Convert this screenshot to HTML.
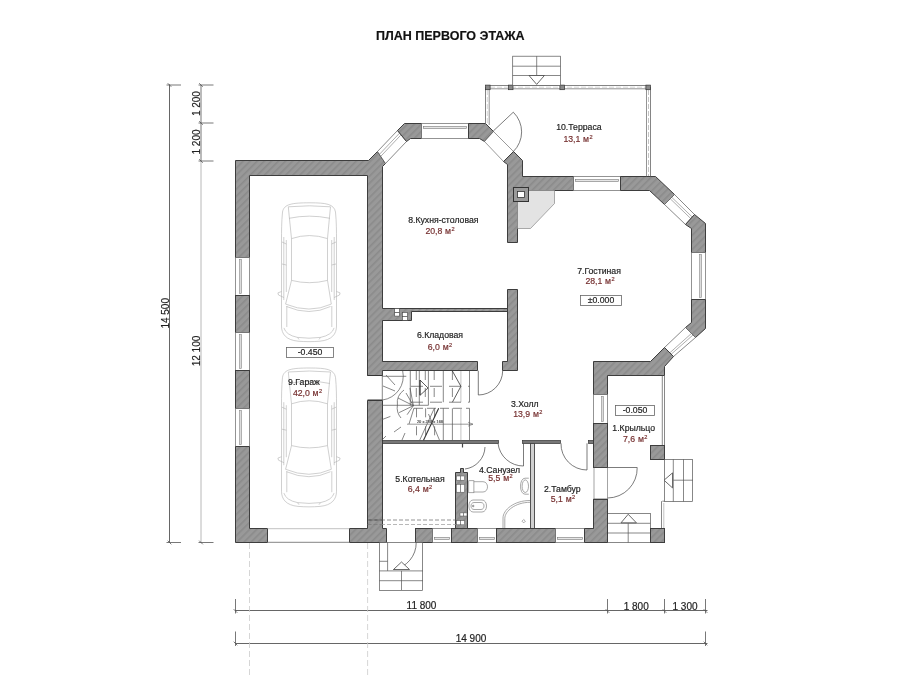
<!DOCTYPE html>
<html><head><meta charset="utf-8"><style>
html,body{margin:0;padding:0;background:#fff;width:899px;height:675px;overflow:hidden}
svg{display:block;will-change:transform}
text{font-family:"Liberation Sans",sans-serif}
</style></head><body>
<svg width="899" height="675" viewBox="0 0 899 675">
<defs>
<pattern id="h" patternUnits="userSpaceOnUse" width="5" height="5" patternTransform="rotate(45)">
<rect width="5" height="5" fill="#999"/>
<rect width="1.6" height="5" fill="#8b8b8b"/>
</pattern>
</defs>
<rect width="899" height="675" fill="#fff"/>
<line x1="169.5" y1="84.5" x2="169.5" y2="542.5" stroke="#555" stroke-width="0.9" />
<line x1="166.5" y1="85.0" x2="181.0" y2="85.0" stroke="#555" stroke-width="0.8" />
<line x1="166.5" y1="542.5" x2="181.0" y2="542.5" stroke="#555" stroke-width="0.8" />
<line x1="201.0" y1="85.0" x2="201.0" y2="161.0" stroke="#666" stroke-width="0.9" />
<line x1="201.0" y1="161.0" x2="201.0" y2="542.5" stroke="#b0b0b0" stroke-width="0.9" />
<line x1="198.5" y1="85.0" x2="213.5" y2="85.0" stroke="#555" stroke-width="0.8" />
<line x1="198.5" y1="123.0" x2="213.5" y2="123.0" stroke="#555" stroke-width="0.8" />
<line x1="198.5" y1="161.0" x2="213.5" y2="161.0" stroke="#555" stroke-width="0.8" />
<line x1="198.5" y1="542.5" x2="213.5" y2="542.5" stroke="#555" stroke-width="0.8" />
<line x1="167.7" y1="83.2" x2="171.3" y2="86.8" stroke="#555" stroke-width="0.8" />
<line x1="167.7" y1="540.7" x2="171.3" y2="544.3" stroke="#555" stroke-width="0.8" />
<line x1="199.2" y1="83.2" x2="202.8" y2="86.8" stroke="#555" stroke-width="0.8" />
<line x1="199.2" y1="121.2" x2="202.8" y2="124.8" stroke="#555" stroke-width="0.8" />
<line x1="199.2" y1="159.2" x2="202.8" y2="162.8" stroke="#555" stroke-width="0.8" />
<line x1="199.2" y1="540.7" x2="202.8" y2="544.3" stroke="#555" stroke-width="0.8" />
<line x1="235.0" y1="610.5" x2="707.5" y2="610.5" stroke="#555" stroke-width="0.9" />
<line x1="235.0" y1="643.5" x2="707.5" y2="643.5" stroke="#555" stroke-width="0.9" />
<line x1="235.5" y1="599.0" x2="235.5" y2="613.5" stroke="#555" stroke-width="0.8" />
<line x1="233.7" y1="609.2" x2="237.3" y2="612.8" stroke="#555" stroke-width="0.8" />
<line x1="607.5" y1="599.0" x2="607.5" y2="613.5" stroke="#555" stroke-width="0.8" />
<line x1="605.7" y1="609.2" x2="609.3" y2="612.8" stroke="#555" stroke-width="0.8" />
<line x1="664.5" y1="599.0" x2="664.5" y2="613.5" stroke="#555" stroke-width="0.8" />
<line x1="662.7" y1="609.2" x2="666.3" y2="612.8" stroke="#555" stroke-width="0.8" />
<line x1="705.5" y1="599.0" x2="705.5" y2="613.5" stroke="#555" stroke-width="0.8" />
<line x1="703.7" y1="609.2" x2="707.3" y2="612.8" stroke="#555" stroke-width="0.8" />
<line x1="235.5" y1="631.5" x2="235.5" y2="646.0" stroke="#555" stroke-width="0.8" />
<line x1="233.7" y1="641.7" x2="237.3" y2="645.3" stroke="#555" stroke-width="0.8" />
<line x1="705.5" y1="631.5" x2="705.5" y2="646.0" stroke="#555" stroke-width="0.8" />
<line x1="703.7" y1="641.7" x2="707.3" y2="645.3" stroke="#555" stroke-width="0.8" />
<line x1="249.5" y1="543.0" x2="249.5" y2="675.0" stroke="#ccc" stroke-width="0.8" stroke-dasharray="6,3"/>
<line x1="367.6" y1="543.0" x2="367.6" y2="675.0" stroke="#ccc" stroke-width="0.8" stroke-dasharray="6,3"/>
<text x="421.5" y="609.0" font-size="10" fill="#222" stroke="#222" stroke-width="0.18" text-anchor="middle" font-weight="normal" >11 800</text>
<text x="636.2" y="609.5" font-size="10" fill="#222" stroke="#222" stroke-width="0.18" text-anchor="middle" font-weight="normal" >1 800</text>
<text x="685.0" y="609.5" font-size="10" fill="#222" stroke="#222" stroke-width="0.18" text-anchor="middle" font-weight="normal" >1 300</text>
<text x="471.0" y="641.5" font-size="10" fill="#222" stroke="#222" stroke-width="0.18" text-anchor="middle" font-weight="normal" >14 900</text>
<text transform="translate(168.5,313.3) rotate(-90)" font-size="10" fill="#222" stroke="#222" stroke-width="0.15" text-anchor="middle">14 500</text>
<text transform="translate(199.8,351) rotate(-90)" font-size="10" fill="#222" stroke="#222" stroke-width="0.15" text-anchor="middle">12 100</text>
<text transform="translate(199.8,103.6) rotate(-90)" font-size="10" fill="#222" stroke="#222" stroke-width="0.15" text-anchor="middle">1 200</text>
<text transform="translate(199.8,142) rotate(-90)" font-size="10" fill="#222" stroke="#222" stroke-width="0.15" text-anchor="middle">1 200</text>
<text x="450.3" y="40.0" font-size="12.5" fill="#111" stroke="#111" stroke-width="0.18" text-anchor="middle" font-weight="bold" >ПЛАН ПЕРВОГО ЭТАЖА</text>
<g fill="none" stroke="#b0b0b0" stroke-width="0.6"><path d="M310.0,202.8 C326.0,202.8 334.0,204.0 335.5,212.0 C336.5,222.0 336.5,232.0 336.5,240.0 L336.5,326.0 C336.5,334.0 332.0,340.0 320.0,341.2 C312.0,341.8 306.0,341.8 298.0,341.2 C286.0,340.0 281.5,334.0 281.5,326.0 L281.5,240.0 C281.5,232.0 281.5,222.0 282.5,212.0 C284.0,204.0 292.0,202.8 310.0,202.8 Z"/><path d="M288.3,206.8 Q309.4,204.8 330.5,206.8"/><path d="M289.0,218.3 Q309.4,214.0 330.0,218.3"/><path d="M291.5,238.6 Q309.4,232.5 327.5,238.6"/><path d="M288.3,206.8 L289.4,218.0 L291.5,238.6 L291.5,280.4 L285.6,304.1"/><path d="M330.5,206.8 L329.4,218.0 L327.5,238.6 L327.5,280.4 L331.3,304.1"/><path d="M291.5,280.4 Q309.4,285.0 327.5,280.4"/><path d="M285.6,304.1 Q309.4,314.0 331.3,304.1"/><path d="M286.5,306.5 Q309.4,316.5 330.5,306.5"/><path d="M283.8,237.0 L283.8,300.0 M286.3,240.0 L286.3,292.0"/><path d="M334.2,237.0 L334.2,300.0 M331.7,240.0 L331.7,292.0"/><path d="M282.0,242.0 L286.3,244.0 M336.0,242.0 L331.7,244.0"/><path d="M282.0,264.0 L286.3,265.0 M336.0,264.0 L331.7,265.0"/><path d="M286.8,306.0 L286.8,327.0 M331.8,306.0 L331.8,327.0"/><path d="M281.5,291.5 L277.9,292.9 L278.5,295.0 L283.9,297.5"/><path d="M336.5,291.5 L340.1,292.9 L339.5,295.0 L334.1,297.5"/><path d="M283.9,327.9 Q286.0,335.0 297.5,337.4 L299.0,339.5"/><path d="M334.1,327.9 Q332.0,335.0 320.5,337.4 L319.0,339.5"/><path d="M297.5,337.4 Q309.0,339.0 320.5,337.4"/></g>
<g fill="none" stroke="#b0b0b0" stroke-width="0.6"><path d="M310.0,368.0 C326.0,368.0 334.0,369.2 335.5,377.2 C336.5,387.2 336.5,397.2 336.5,405.2 L336.5,491.2 C336.5,499.2 332.0,505.2 320.0,506.4 C312.0,507.0 306.0,507.0 298.0,506.4 C286.0,505.2 281.5,499.2 281.5,491.2 L281.5,405.2 C281.5,397.2 281.5,387.2 282.5,377.2 C284.0,369.2 292.0,368.0 310.0,368.0 Z"/><path d="M288.3,372.0 Q309.4,370.0 330.5,372.0"/><path d="M289.0,383.5 Q309.4,379.2 330.0,383.5"/><path d="M291.5,403.8 Q309.4,397.7 327.5,403.8"/><path d="M288.3,372.0 L289.4,383.2 L291.5,403.8 L291.5,445.6 L285.6,469.3"/><path d="M330.5,372.0 L329.4,383.2 L327.5,403.8 L327.5,445.6 L331.3,469.3"/><path d="M291.5,445.6 Q309.4,450.2 327.5,445.6"/><path d="M285.6,469.3 Q309.4,479.2 331.3,469.3"/><path d="M286.5,471.7 Q309.4,481.7 330.5,471.7"/><path d="M283.8,402.2 L283.8,465.2 M286.3,405.2 L286.3,457.2"/><path d="M334.2,402.2 L334.2,465.2 M331.7,405.2 L331.7,457.2"/><path d="M282.0,407.2 L286.3,409.2 M336.0,407.2 L331.7,409.2"/><path d="M282.0,429.2 L286.3,430.2 M336.0,429.2 L331.7,430.2"/><path d="M286.8,471.2 L286.8,492.2 M331.8,471.2 L331.8,492.2"/><path d="M281.5,456.7 L277.9,458.1 L278.5,460.2 L283.9,462.7"/><path d="M336.5,456.7 L340.1,458.1 L339.5,460.2 L334.1,462.7"/><path d="M283.9,493.1 Q286.0,500.2 297.5,502.6 L299.0,504.7"/><path d="M334.1,493.1 Q332.0,500.2 320.5,502.6 L319.0,504.7"/><path d="M297.5,502.6 Q309.0,504.2 320.5,502.6"/></g>
<polygon points="235.5,160.5 368.5,160.5 377.5,151.5 385.5,163.5 382.5,166.5 382.5,375.5 367.5,375.5 367.5,175.5 249.5,175.5 249.5,257.5 235.5,257.5" fill="url(#h)" stroke="#3d3d3d" stroke-width="1"/>
<rect x="235.5" y="257.5" width="14.0" height="38.0" fill="#fff" stroke="#666" stroke-width="0.7"/>
<rect x="239.5" y="259.5" width="2.0" height="34.0" fill="#dcdcdc" stroke="#888" stroke-width="0.6"/>
<rect x="235.5" y="295.5" width="14.0" height="37.0" fill="url(#h)" stroke="#3d3d3d" stroke-width="1"/>
<rect x="235.5" y="332.5" width="14.0" height="38.0" fill="#fff" stroke="#666" stroke-width="0.7"/>
<rect x="239.5" y="334.5" width="2.0" height="34.0" fill="#dcdcdc" stroke="#888" stroke-width="0.6"/>
<rect x="235.5" y="370.5" width="14.0" height="38.0" fill="url(#h)" stroke="#3d3d3d" stroke-width="1"/>
<rect x="235.5" y="408.5" width="14.0" height="38.0" fill="#fff" stroke="#666" stroke-width="0.7"/>
<rect x="239.5" y="410.5" width="2.0" height="34.0" fill="#dcdcdc" stroke="#888" stroke-width="0.6"/>
<polygon points="235.5,446.5 249.5,446.5 249.5,528.5 267.5,528.5 267.5,542.5 235.5,542.5" fill="url(#h)" stroke="#3d3d3d" stroke-width="1"/>
<polygon points="377.5,151.5 397.5,130.5 406.5,141.5 385.5,163.5" fill="#fff" stroke="#555" stroke-width="0.7"/>
<line x1="379.2" y1="154.6" x2="399.3" y2="133.4" stroke="#777" stroke-width="0.6" />
<line x1="380.6" y1="156.5" x2="400.8" y2="135.1" stroke="#777" stroke-width="0.6" />
<polygon points="397.5,130.5 404.5,123.5 421.5,123.5 421.5,138.5 410.5,138.5 406.5,141.5" fill="url(#h)" stroke="#3d3d3d" stroke-width="1"/>
<rect x="421.5" y="123.5" width="47.0" height="15.0" fill="#fff" stroke="#666" stroke-width="0.7"/>
<rect x="423.5" y="126.5" width="43.0" height="2.0" fill="#e6e6e6" stroke="#777" stroke-width="0.6"/>
<polygon points="468.5,123.5 485.5,123.5 493.5,131.5 484.5,141.5 479.5,138.5 468.5,138.5" fill="url(#h)" stroke="#3d3d3d" stroke-width="1"/>
<polygon points="493.5,131.5 513.5,151.5 503.5,161.5 484.5,141.5" fill="#fff" stroke="#555" stroke-width="0.6"/>
<line x1="493.3" y1="131.0" x2="513.3" y2="112.2" stroke="#444" stroke-width="0.7" />
<path d="M513.3,112.2 A27.5,27.5 0 0 1 513.3,151.6" stroke="#444" stroke-width="0.7" fill="none" />
<polygon points="513.5,151.5 522.5,160.5 522.5,176.5 573.5,176.5 573.5,190.5 517.5,190.5 517.5,242.5 507.5,242.5 507.5,164.5 503.5,161.5" fill="url(#h)" stroke="#3d3d3d" stroke-width="1"/>
<rect x="573.5" y="176.5" width="47.0" height="14.0" fill="#fff" stroke="#666" stroke-width="0.7"/>
<rect x="575.5" y="179.5" width="43.0" height="2.0" fill="#e6e6e6" stroke="#777" stroke-width="0.6"/>
<polygon points="620.5,176.5 655.5,176.5 674.5,194.5 664.5,204.5 649.5,190.5 620.5,190.5" fill="url(#h)" stroke="#3d3d3d" stroke-width="1"/>
<polygon points="674.5,194.5 694.5,214.5 685.5,224.5 664.5,204.5" fill="#fff" stroke="#555" stroke-width="0.7"/>
<line x1="671.6" y1="197.2" x2="692.4" y2="217.2" stroke="#777" stroke-width="0.6" />
<line x1="670.2" y1="198.7" x2="690.9" y2="218.7" stroke="#777" stroke-width="0.6" />
<polygon points="694.5,214.5 705.5,223.5 705.5,252.5 691.5,252.5 691.5,228.5 685.5,224.5" fill="url(#h)" stroke="#3d3d3d" stroke-width="1"/>
<rect x="691.5" y="252.5" width="14.0" height="47.0" fill="#fff" stroke="#666" stroke-width="0.7"/>
<rect x="699.5" y="254.5" width="2.0" height="43.0" fill="#dcdcdc" stroke="#888" stroke-width="0.6"/>
<polygon points="691.5,299.5 705.5,299.5 705.5,328.5 695.5,337.5 685.5,327.5 691.5,322.5" fill="url(#h)" stroke="#3d3d3d" stroke-width="1"/>
<polygon points="695.5,337.5 673.5,356.5 664.5,347.5 685.5,327.5" fill="#fff" stroke="#555" stroke-width="0.7"/>
<line x1="693.2" y1="334.8" x2="670.9" y2="354.5" stroke="#777" stroke-width="0.6" />
<line x1="691.6" y1="333.3" x2="669.6" y2="353.0" stroke="#777" stroke-width="0.6" />
<polygon points="673.5,356.5 664.5,366.5 664.5,375.5 607.5,375.5 607.5,394.5 593.5,394.5 593.5,361.5 650.5,361.5 664.5,347.5" fill="url(#h)" stroke="#3d3d3d" stroke-width="1"/>
<polygon points="517.5,190.5 554.5,190.5 554.5,203.5 530.5,228.5 517.5,228.5" fill="#e3e3e3" stroke="#888" stroke-width="0.7"/>
<rect x="513.5" y="187.5" width="15.0" height="14.0" fill="#9a9a9a" stroke="#333" stroke-width="1"/>
<rect x="517.5" y="191.5" width="7.0" height="6.0" fill="#fff" stroke="#333" stroke-width="0.8"/>
<polygon points="381.5,308.5 508.5,308.5 508.5,311.5 411.5,311.5 411.5,320.5 381.5,320.5" fill="url(#h)" stroke="none"/>
<path d="M382.5,308.5 H508 M411.5,311.5 H508 M382.5,320.5 H411.5 V311.5" stroke="#3d3d3d" stroke-width="1" fill="none"/>
<rect x="394.7" y="308.6" width="4.7" height="3.9" fill="#fff" stroke="#444" stroke-width="0.6"/>
<rect x="394.7" y="312.5" width="4.7" height="3.6" fill="#fff" stroke="#444" stroke-width="0.6"/>
<rect x="402.5" y="312.5" width="5.0" height="3.9" fill="#fff" stroke="#444" stroke-width="0.6"/>
<rect x="402.5" y="316.4" width="5.0" height="3.9" fill="#fff" stroke="#444" stroke-width="0.6"/>
<polygon points="507.5,289.5 517.5,289.5 517.5,370.5 502.5,370.5 502.5,361.5 507.5,361.5" fill="url(#h)" stroke="#3d3d3d" stroke-width="1"/>
<rect x="381.5" y="361.5" width="96.0" height="9.0" fill="url(#h)" stroke="none"/>
<path d="M382.5,361.5 H477.5 V370.5 H382.5" stroke="#3d3d3d" stroke-width="1" fill="none"/>
<line x1="478.3" y1="370.7" x2="478.3" y2="395.0" stroke="#444" stroke-width="0.7" />
<path d="M478.3,395 A24.5,24.5 0 0 0 502.7,370.7" stroke="#444" stroke-width="0.7" fill="none" />
<polygon points="367.5,400.5 382.5,400.5 382.5,528.5 386.5,528.5 386.5,542.5 349.5,542.5 349.5,528.5 367.5,528.5" fill="url(#h)" stroke="#3d3d3d" stroke-width="1"/>
<line x1="367.5" y1="375.5" x2="382.5" y2="375.5" stroke="#333" stroke-width="1" />
<line x1="367.5" y1="400.0" x2="382.5" y2="400.0" stroke="#333" stroke-width="1" />
<rect x="382.5" y="440.5" width="116.0" height="3.0" fill="#777" stroke="#333" stroke-width="0.7"/>
<rect x="522.5" y="440.5" width="38.0" height="3.0" fill="#777" stroke="#333" stroke-width="0.7"/>
<rect x="588.5" y="440.5" width="5.0" height="3.0" fill="#777" stroke="#333" stroke-width="0.7"/>
<rect x="530.5" y="443.5" width="4.0" height="85.0" fill="#d0d0d0" stroke="#444" stroke-width="0.9"/>
<path d="M498,443.3 A25.5,25.5 0 0 0 523.5,466" stroke="#444" stroke-width="0.7" fill="none" />
<line x1="523.5" y1="443.3" x2="523.5" y2="466.0" stroke="#444" stroke-width="0.7" />
<path d="M561,443.3 A26,26 0 0 0 587,470" stroke="#444" stroke-width="0.7" fill="none" />
<line x1="587.0" y1="443.3" x2="587.0" y2="470.0" stroke="#444" stroke-width="0.7" />
<line x1="462.5" y1="443.3" x2="462.5" y2="447.5" stroke="#444" stroke-width="1.2" />
<polygon points="460.5,468.5 463.5,468.5 463.5,472.5 467.5,472.5 467.5,528.5 455.5,528.5 455.5,472.5 460.5,472.5" fill="url(#h)" stroke="#3d3d3d" stroke-width="1"/>
<rect x="456.5" y="476.0" width="4.0" height="4.2" fill="#fff" stroke="#555" stroke-width="0.5"/>
<rect x="460.5" y="476.0" width="4.0" height="4.2" fill="#fff" stroke="#555" stroke-width="0.5"/>
<rect x="456.5" y="484.4" width="4.0" height="7.8" fill="#fff" stroke="#555" stroke-width="0.5"/>
<rect x="460.5" y="484.4" width="4.0" height="7.8" fill="#fff" stroke="#555" stroke-width="0.5"/>
<rect x="460.0" y="512.9" width="3.5" height="3.1" fill="#fff" stroke="#555" stroke-width="0.5"/>
<rect x="463.5" y="512.9" width="3.5" height="3.1" fill="#fff" stroke="#555" stroke-width="0.5"/>
<rect x="456.5" y="520.7" width="4.0" height="4.1" fill="#fff" stroke="#555" stroke-width="0.5"/>
<rect x="460.5" y="520.7" width="4.0" height="4.1" fill="#fff" stroke="#555" stroke-width="0.5"/>
<path d="M465,469 A23,23 0 0 0 485,447" stroke="#444" stroke-width="0.7" fill="none" />
<line x1="369.0" y1="520.0" x2="456.0" y2="520.0" stroke="#666" stroke-width="0.7" stroke-dasharray="4,2"/>
<line x1="369.0" y1="524.5" x2="456.0" y2="524.5" stroke="#999" stroke-width="0.7" stroke-dasharray="4,2"/>
<rect x="593.5" y="394.5" width="14.0" height="29.0" fill="#fff" stroke="#666" stroke-width="0.7"/>
<rect x="601.5" y="396.5" width="2.0" height="25.0" fill="#dcdcdc" stroke="#888" stroke-width="0.6"/>
<rect x="593.5" y="423.5" width="14.0" height="44.0" fill="url(#h)" stroke="#3d3d3d" stroke-width="1"/>
<rect x="593.5" y="499.5" width="14.0" height="29.0" fill="url(#h)" stroke="#3d3d3d" stroke-width="1"/>
<line x1="593.5" y1="467.5" x2="637.2" y2="467.5" stroke="#444" stroke-width="0.7" />
<path d="M637.2,467.5 A29.8,29.8 0 0 1 607.5,498" stroke="#444" stroke-width="0.7" fill="none" />
<line x1="593.5" y1="499.0" x2="607.5" y2="499.0" stroke="#444" stroke-width="0.7" />
<line x1="594.0" y1="467.5" x2="594.0" y2="499.0" stroke="#666" stroke-width="0.6" />
<line x1="607.5" y1="467.5" x2="607.5" y2="499.0" stroke="#666" stroke-width="0.6" />
<line x1="662.3" y1="375.5" x2="662.3" y2="445.0" stroke="#555" stroke-width="0.7" />
<line x1="664.5" y1="375.5" x2="664.5" y2="445.0" stroke="#555" stroke-width="0.7" />
<rect x="650.5" y="445.5" width="14.0" height="14.0" fill="url(#h)" stroke="#3d3d3d" stroke-width="1"/>
<line x1="661.5" y1="501.2" x2="661.5" y2="528.2" stroke="#555" stroke-width="0.7" />
<line x1="663.8" y1="503.0" x2="663.8" y2="528.2" stroke="#999" stroke-width="0.6" />
<line x1="662.3" y1="501.2" x2="664.5" y2="501.2" stroke="#555" stroke-width="0.7" />
<rect x="664.5" y="459.5" width="28.0" height="42.0" fill="none" stroke="#555" stroke-width="0.7"/>
<line x1="673.3" y1="459.3" x2="673.3" y2="501.5" stroke="#555" stroke-width="0.7" />
<line x1="683.5" y1="459.3" x2="683.5" y2="501.5" stroke="#555" stroke-width="0.7" />
<line x1="673.3" y1="480.2" x2="692.9" y2="480.2" stroke="#555" stroke-width="0.7" />
<path d="M664,480.2 L672.5,472.9 L672.5,487.9 Z" stroke="#444" stroke-width="0.8" fill="#fff" />
<rect x="607.5" y="513.5" width="43.0" height="29.0" fill="#fff" stroke="#555" stroke-width="0.7"/>
<line x1="607.5" y1="523.3" x2="650.3" y2="523.3" stroke="#555" stroke-width="0.7" />
<line x1="607.5" y1="533.0" x2="650.3" y2="533.0" stroke="#555" stroke-width="0.7" />
<line x1="628.2" y1="523.3" x2="628.2" y2="542.5" stroke="#555" stroke-width="0.7" />
<path d="M628.2,514.3 L636.4,522.8 L621,522.8 Z" stroke="#444" stroke-width="0.8" fill="#fff" />
<rect x="415.5" y="528.5" width="17.0" height="14.0" fill="url(#h)" stroke="#3d3d3d" stroke-width="1"/>
<rect x="432.5" y="528.5" width="19.0" height="14.0" fill="#fff" stroke="#666" stroke-width="0.7"/>
<rect x="434.5" y="537.5" width="15.0" height="2.0" fill="#e6e6e6" stroke="#777" stroke-width="0.6"/>
<rect x="451.5" y="528.5" width="26.0" height="14.0" fill="url(#h)" stroke="#3d3d3d" stroke-width="1"/>
<rect x="477.5" y="528.5" width="19.0" height="14.0" fill="#fff" stroke="#666" stroke-width="0.7"/>
<rect x="479.5" y="537.5" width="15.0" height="2.0" fill="#e6e6e6" stroke="#777" stroke-width="0.6"/>
<rect x="496.5" y="528.5" width="59.0" height="14.0" fill="url(#h)" stroke="#3d3d3d" stroke-width="1"/>
<rect x="555.5" y="528.5" width="29.0" height="14.0" fill="#fff" stroke="#666" stroke-width="0.7"/>
<rect x="557.5" y="537.5" width="25.0" height="2.0" fill="#e6e6e6" stroke="#777" stroke-width="0.6"/>
<polygon points="584.5,528.5 593.5,528.5 593.5,499.5 607.5,499.5 607.5,542.5 584.5,542.5" fill="url(#h)" stroke="#3d3d3d" stroke-width="1"/>
<rect x="650.5" y="528.5" width="14.0" height="14.0" fill="url(#h)" stroke="#3d3d3d" stroke-width="1"/>
<line x1="267.5" y1="528.7" x2="349.5" y2="528.7" stroke="#999" stroke-width="0.6" />
<line x1="267.5" y1="542.3" x2="349.5" y2="542.3" stroke="#666" stroke-width="0.8" />
<line x1="367.5" y1="520.0" x2="382.5" y2="520.0" stroke="#444" stroke-width="0.7" stroke-dasharray="4,2"/>
<line x1="367.5" y1="524.5" x2="382.5" y2="524.5" stroke="#777" stroke-width="0.7" stroke-dasharray="4,2"/>
<rect x="379.5" y="542.5" width="43.0" height="48.0" fill="#fff" stroke="#555" stroke-width="0.7"/>
<line x1="387.6" y1="542.5" x2="387.6" y2="570.9" stroke="#555" stroke-width="0.7" />
<line x1="379.4" y1="561.3" x2="387.6" y2="561.3" stroke="#555" stroke-width="0.7" />
<line x1="379.4" y1="570.9" x2="422.9" y2="570.9" stroke="#555" stroke-width="0.7" />
<line x1="379.4" y1="580.7" x2="422.9" y2="580.7" stroke="#555" stroke-width="0.7" />
<line x1="401.5" y1="570.9" x2="401.5" y2="590.0" stroke="#555" stroke-width="0.7" />
<path d="M416.2,542.5 A27,27 0 0 1 393.5,569.5" stroke="#444" stroke-width="0.7" fill="none" />
<path d="M401.5,562 L409.5,569.5 L393.5,569.5 Z" stroke="#444" stroke-width="0.8" fill="#fff" />
<line x1="487.8" y1="85.5" x2="648.5" y2="85.5" stroke="#666" stroke-width="0.8" />
<line x1="487.8" y1="88.8" x2="648.5" y2="88.8" stroke="#666" stroke-width="0.7" />
<line x1="490.0" y1="87.2" x2="646.0" y2="87.2" stroke="#aaa" stroke-width="0.5" stroke-dasharray="5,2"/>
<line x1="485.5" y1="87.0" x2="485.5" y2="124.0" stroke="#666" stroke-width="0.8" />
<line x1="489.2" y1="87.0" x2="489.2" y2="125.0" stroke="#666" stroke-width="0.7" />
<line x1="487.3" y1="90.0" x2="487.3" y2="123.0" stroke="#aaa" stroke-width="0.5" stroke-dasharray="5,2"/>
<line x1="646.5" y1="87.0" x2="646.5" y2="176.5" stroke="#666" stroke-width="0.7" />
<line x1="650.5" y1="87.0" x2="650.5" y2="176.5" stroke="#666" stroke-width="0.8" />
<line x1="648.5" y1="90.0" x2="648.5" y2="176.0" stroke="#888" stroke-width="0.5" stroke-dasharray="5,2"/>
<rect x="485.5" y="85.1" width="4.6" height="4.6" fill="#8a8a8a" stroke="#333" stroke-width="0.7"/>
<rect x="508.4" y="85.1" width="4.6" height="4.6" fill="#8a8a8a" stroke="#333" stroke-width="0.7"/>
<rect x="559.9" y="85.1" width="4.6" height="4.6" fill="#8a8a8a" stroke="#333" stroke-width="0.7"/>
<rect x="645.9" y="85.1" width="4.6" height="4.6" fill="#8a8a8a" stroke="#333" stroke-width="0.7"/>
<rect x="512.7" y="56.2" width="47.7" height="29.3" fill="#fff" stroke="#555" stroke-width="0.7"/>
<line x1="536.7" y1="56.2" x2="536.7" y2="75.5" stroke="#555" stroke-width="0.7" />
<line x1="512.7" y1="66.2" x2="560.4" y2="66.2" stroke="#555" stroke-width="0.7" />
<line x1="512.7" y1="75.5" x2="560.4" y2="75.5" stroke="#555" stroke-width="0.7" />
<path d="M529,75.5 L544.4,75.5 L536.7,84.4 Z" stroke="#444" stroke-width="0.8" fill="#fff" />
<line x1="382.3" y1="371.0" x2="382.3" y2="400.0" stroke="#555" stroke-width="0.7" />
<line x1="382.3" y1="376.3" x2="406.3" y2="376.3" stroke="#555" stroke-width="0.7" />
<path d="M402.7,371 A24,24 0 0 1 382.5,400" stroke="#555" stroke-width="0.7" fill="none" />
<line x1="410.3" y1="371.0" x2="410.3" y2="405.3" stroke="#555" stroke-width="0.7" />
<line x1="419.3" y1="371.0" x2="419.3" y2="405.3" stroke="#555" stroke-width="0.7" />
<line x1="428.4" y1="371.0" x2="428.4" y2="405.3" stroke="#555" stroke-width="0.7" />
<line x1="443.3" y1="371.0" x2="443.3" y2="402.2" stroke="#555" stroke-width="0.7" />
<line x1="469.5" y1="371.0" x2="469.5" y2="402.2" stroke="#555" stroke-width="0.7" />
<line x1="460.9" y1="371.0" x2="460.9" y2="402.2" stroke="#aaa" stroke-width="0.7" />
<line x1="416.3" y1="371.0" x2="416.3" y2="402.0" stroke="#555" stroke-width="0.7" stroke-dasharray="9,8"/>
<line x1="425.3" y1="371.0" x2="425.3" y2="402.0" stroke="#555" stroke-width="0.7" stroke-dasharray="9,8"/>
<line x1="434.2" y1="371.0" x2="434.2" y2="402.0" stroke="#555" stroke-width="0.7" stroke-dasharray="9,8"/>
<line x1="452.4" y1="371.0" x2="452.4" y2="402.0" stroke="#555" stroke-width="0.7" stroke-dasharray="9,8"/>
<line x1="382.3" y1="405.3" x2="428.4" y2="405.3" stroke="#555" stroke-width="0.7" />
<line x1="411.0" y1="386.3" x2="469.5" y2="386.3" stroke="#555" stroke-width="0.7" stroke-dasharray="12,7"/>
<line x1="411.0" y1="402.2" x2="469.5" y2="402.2" stroke="#555" stroke-width="0.7" stroke-dasharray="12,7"/>
<path d="M420,380 L428,388 L420,395.3" stroke="#333" stroke-width="0.8" fill="none" />
<line x1="420.0" y1="380.0" x2="420.0" y2="395.3" stroke="#333" stroke-width="1.3" />
<path d="M452.4,371 L460.9,386.3 L452.4,402.2" stroke="#333" stroke-width="0.8" fill="none" />
<line x1="414.0" y1="408.3" x2="469.5" y2="408.3" stroke="#555" stroke-width="0.7" stroke-dasharray="9,4"/>
<line x1="443.3" y1="408.3" x2="443.3" y2="440.2" stroke="#555" stroke-width="0.7" />
<line x1="452.4" y1="408.3" x2="452.4" y2="440.2" stroke="#555" stroke-width="0.7" />
<line x1="469.5" y1="408.3" x2="469.5" y2="440.2" stroke="#555" stroke-width="0.7" />
<line x1="460.9" y1="408.3" x2="460.9" y2="440.2" stroke="#aaa" stroke-width="0.7" />
<line x1="416.5" y1="408.3" x2="416.5" y2="440.2" stroke="#555" stroke-width="0.7" stroke-dasharray="9,9"/>
<line x1="425.6" y1="408.3" x2="425.6" y2="440.2" stroke="#555" stroke-width="0.7" stroke-dasharray="9,9"/>
<line x1="434.6" y1="408.3" x2="434.6" y2="440.2" stroke="#555" stroke-width="0.7" stroke-dasharray="9,9"/>
<path d="M397.4,405 A16,16 0 0 0 401,418" stroke="#555" stroke-width="0.7" fill="none" />
<path d="M404,390 A16,16 0 0 0 397.4,405" stroke="#555" stroke-width="0.7" fill="none" />
<line x1="413.4" y1="405.7" x2="399.1" y2="412.6" stroke="#555" stroke-width="0.7" />
<line x1="390.4" y1="416.4" x2="382.0" y2="419.6" stroke="#555" stroke-width="0.7" />
<line x1="413.4" y1="405.7" x2="407.1" y2="414.7" stroke="#555" stroke-width="0.7" />
<line x1="401.0" y1="427.0" x2="394.0" y2="432.0" stroke="#555" stroke-width="0.7" />
<line x1="386.0" y1="436.0" x2="382.0" y2="440.0" stroke="#555" stroke-width="0.7" />
<line x1="414.0" y1="408.0" x2="409.0" y2="424.0" stroke="#555" stroke-width="0.7" />
<line x1="405.0" y1="433.0" x2="402.0" y2="440.0" stroke="#555" stroke-width="0.7" />
<line x1="413.4" y1="405.7" x2="398.0" y2="398.0" stroke="#555" stroke-width="0.7" />
<line x1="395.0" y1="391.0" x2="383.0" y2="386.0" stroke="#555" stroke-width="0.7" />
<line x1="413.4" y1="405.7" x2="406.0" y2="393.0" stroke="#555" stroke-width="0.7" />
<line x1="413.4" y1="405.7" x2="410.0" y2="388.0" stroke="#555" stroke-width="0.7" />
<line x1="395.0" y1="385.0" x2="386.0" y2="375.0" stroke="#555" stroke-width="0.7" />
<line x1="434.3" y1="408.3" x2="419.7" y2="440.2" stroke="#555" stroke-width="0.7" />
<line x1="438.7" y1="408.3" x2="423.5" y2="440.2" stroke="#333" stroke-width="1.1" />
<line x1="428.5" y1="414.0" x2="439.5" y2="440.2" stroke="#555" stroke-width="0.7" />
<line x1="407.0" y1="424.2" x2="472.9" y2="424.2" stroke="#555" stroke-width="0.6" />
<line x1="468.0" y1="422.2" x2="472.9" y2="424.2" stroke="#555" stroke-width="0.5" />
<line x1="468.0" y1="426.2" x2="472.9" y2="424.2" stroke="#555" stroke-width="0.5" />
<text x="430.0" y="422.8" font-size="4" fill="#555" stroke="#555" stroke-width="0.18" text-anchor="middle" font-weight="normal" >20 x 280 x 166</text>
<g fill="none" stroke="#8c8c8c" stroke-width="0.75">
<rect x="468.7" y="480.7" width="5.2" height="12"/>
<path d="M473.9,481.7 L483,481.7 C489,481.7 489,492 483,492 L473.9,492"/>
<path d="M473,500 L482,500 C488,500 488,512 482,512 L473,512 C467.5,512 467.5,500 473,500 Z"/>
<path d="M474,502.5 L481,502.5 C485,502.5 485,509.5 481,509.5 L474,509.5 C470,509.5 470,502.5 474,502.5 Z"/>
<circle cx="473.2" cy="506" r="0.8" fill="#8c8c8c"/>
<path d="M528.8,478.2 L525,478.2 C519,478.2 519,494.2 525,494.2 L528.8,494.2"/>
<ellipse cx="525.3" cy="486.2" rx="3.2" ry="6.3"/>
<path d="M530,500.5 C514,500.5 503,510 503,518 L503,528"/>
<path d="M530,502.3 C515.5,502.3 504.8,511 504.8,518.5 L504.8,528"/>
<path d="M523.7,519.5 L525.4,521.2 L523.7,522.9 L522,521.2 Z"/>
</g>
<text x="450.3" y="40.0" font-size="1" fill="#222" stroke="#222" stroke-width="0.18" text-anchor="middle" font-weight="normal" ></text>
<text x="578.9" y="130.0" font-size="8.7" fill="#222" stroke="#222" stroke-width="0.18" text-anchor="middle" font-weight="normal" >10.Терраса</text>
<text x="578.0" y="142.3" font-size="8.7" fill="#742e2e" stroke="#742e2e" stroke-width="0.18" text-anchor="middle">13,1 <tspan dx="0.4">м</tspan><tspan font-size="5.6" dx="0.4" dy="-2.9">2</tspan></text>
<text x="443.3" y="222.8" font-size="8.7" fill="#222" stroke="#222" stroke-width="0.18" text-anchor="middle" font-weight="normal" >8.Кухня-столовая</text>
<text x="440.0" y="233.7" font-size="8.7" fill="#742e2e" stroke="#742e2e" stroke-width="0.18" text-anchor="middle">20,8 <tspan dx="0.4">м</tspan><tspan font-size="5.6" dx="0.4" dy="-2.9">2</tspan></text>
<text x="599.0" y="274.0" font-size="8.7" fill="#222" stroke="#222" stroke-width="0.18" text-anchor="middle" font-weight="normal" >7.Гостиная</text>
<text x="600.0" y="284.0" font-size="8.7" fill="#742e2e" stroke="#742e2e" stroke-width="0.18" text-anchor="middle">28,1 <tspan dx="0.4">м</tspan><tspan font-size="5.6" dx="0.4" dy="-2.9">2</tspan></text>
<rect x="580.5" y="295.5" width="41.0" height="10.0" fill="#fff" stroke="#666" stroke-width="0.8"/>
<text x="601.0" y="302.7" font-size="8.7" fill="#222" stroke="#222" stroke-width="0.18" text-anchor="middle" font-weight="normal" >±0.000</text>
<text x="440.0" y="337.5" font-size="8.7" fill="#222" stroke="#222" stroke-width="0.18" text-anchor="middle" font-weight="normal" >6.Кладовая</text>
<text x="440.0" y="350.0" font-size="8.7" fill="#742e2e" stroke="#742e2e" stroke-width="0.18" text-anchor="middle">6,0 <tspan dx="0.4">м</tspan><tspan font-size="5.6" dx="0.4" dy="-2.9">2</tspan></text>
<rect x="286.5" y="347.5" width="47.0" height="10.0" fill="#fff" stroke="#666" stroke-width="0.8"/>
<text x="310.0" y="354.6" font-size="8.7" fill="#222" stroke="#222" stroke-width="0.18" text-anchor="middle" font-weight="normal" >-0.450</text>
<text x="304.0" y="384.7" font-size="8.7" fill="#222" stroke="#222" stroke-width="0.18" text-anchor="middle" font-weight="normal" >9.Гараж</text>
<text x="307.5" y="395.8" font-size="8.7" fill="#742e2e" stroke="#742e2e" stroke-width="0.18" text-anchor="middle">42,0 <tspan dx="0.4">м</tspan><tspan font-size="5.6" dx="0.4" dy="-2.9">2</tspan></text>
<text x="524.8" y="407.0" font-size="8.7" fill="#222" stroke="#222" stroke-width="0.18" text-anchor="middle" font-weight="normal" >3.Холл</text>
<text x="527.8" y="417.0" font-size="8.7" fill="#742e2e" stroke="#742e2e" stroke-width="0.18" text-anchor="middle">13,9 <tspan dx="0.4">м</tspan><tspan font-size="5.6" dx="0.4" dy="-2.9">2</tspan></text>
<rect x="615.5" y="405.5" width="39.0" height="10.0" fill="#fff" stroke="#666" stroke-width="0.8"/>
<text x="635.0" y="412.6" font-size="8.7" fill="#222" stroke="#222" stroke-width="0.18" text-anchor="middle" font-weight="normal" >-0.050</text>
<text x="633.7" y="431.4" font-size="8.7" fill="#222" stroke="#222" stroke-width="0.18" text-anchor="middle" font-weight="normal" >1.Крыльцо</text>
<text x="635.2" y="441.6" font-size="8.7" fill="#742e2e" stroke="#742e2e" stroke-width="0.18" text-anchor="middle">7,6 <tspan dx="0.4">м</tspan><tspan font-size="5.6" dx="0.4" dy="-2.9">2</tspan></text>
<text x="420.0" y="482.2" font-size="8.7" fill="#222" stroke="#222" stroke-width="0.18" text-anchor="middle" font-weight="normal" >5.Котельная</text>
<text x="420.0" y="491.5" font-size="8.7" fill="#742e2e" stroke="#742e2e" stroke-width="0.18" text-anchor="middle">6,4 <tspan dx="0.4">м</tspan><tspan font-size="5.6" dx="0.4" dy="-2.9">2</tspan></text>
<text x="499.5" y="472.6" font-size="8.7" fill="#222" stroke="#222" stroke-width="0.18" text-anchor="middle" font-weight="normal" >4.Санузел</text>
<text x="500.5" y="480.8" font-size="8.7" fill="#742e2e" stroke="#742e2e" stroke-width="0.18" text-anchor="middle">5,5 <tspan dx="0.4">м</tspan><tspan font-size="5.6" dx="0.4" dy="-2.9">2</tspan></text>
<text x="562.3" y="491.8" font-size="8.7" fill="#222" stroke="#222" stroke-width="0.18" text-anchor="middle" font-weight="normal" >2.Тамбур</text>
<text x="563.0" y="502.2" font-size="8.7" fill="#742e2e" stroke="#742e2e" stroke-width="0.18" text-anchor="middle">5,1 <tspan dx="0.4">м</tspan><tspan font-size="5.6" dx="0.4" dy="-2.9">2</tspan></text>
</svg>
</body></html>
